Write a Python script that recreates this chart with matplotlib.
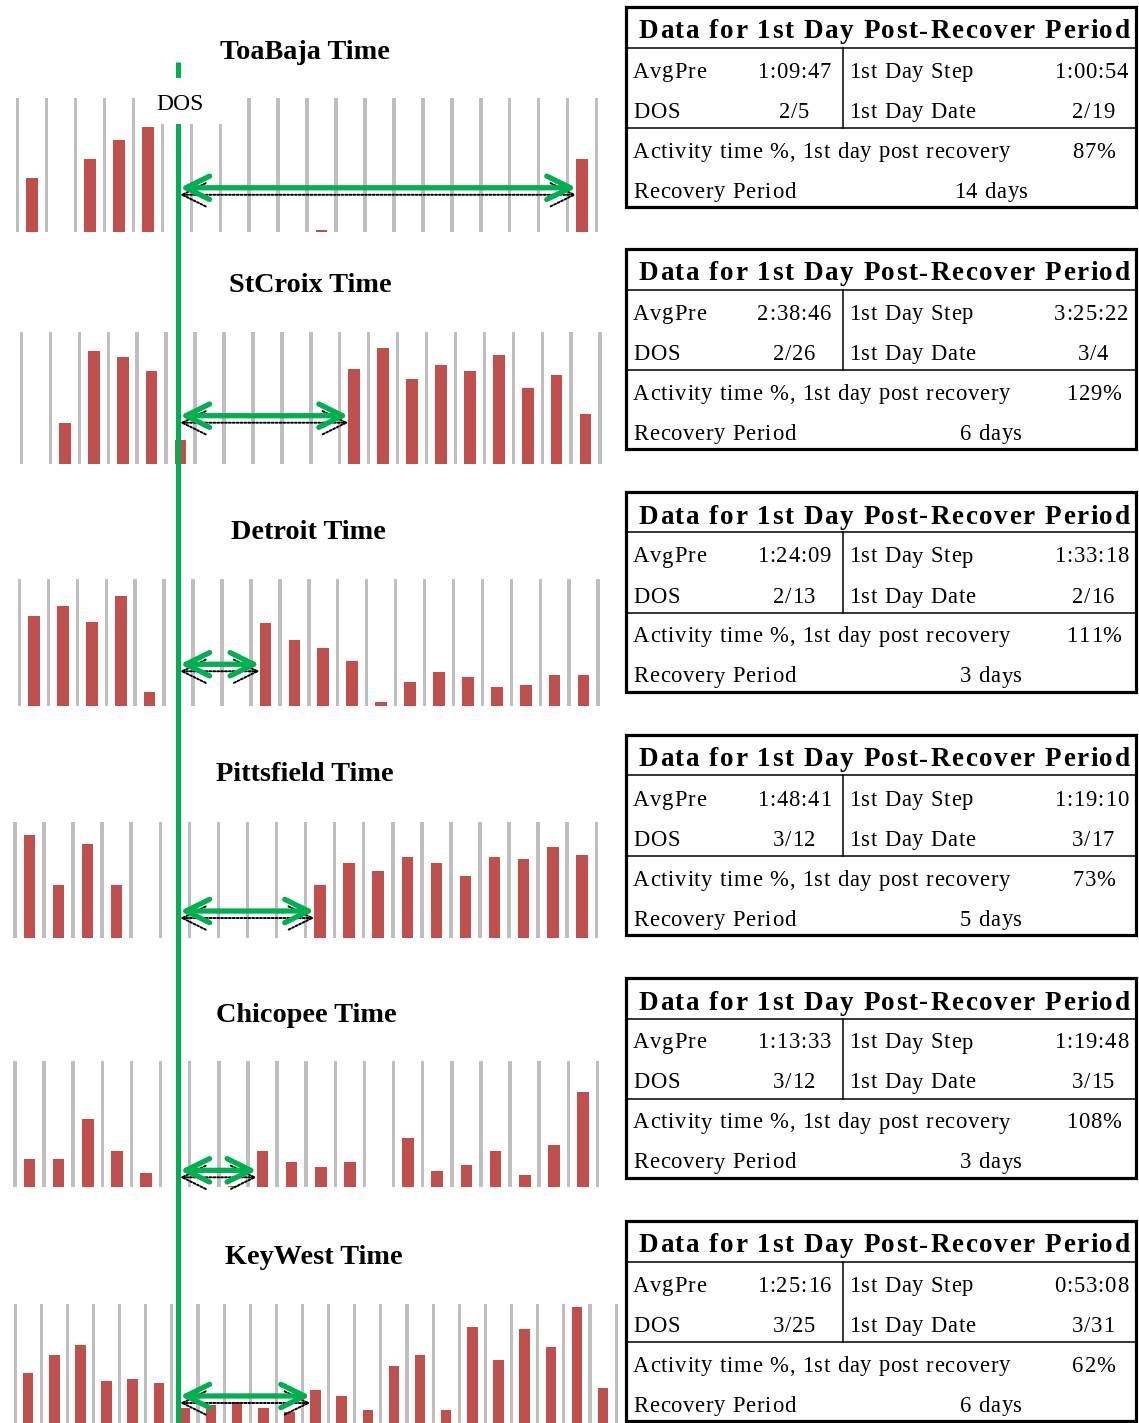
import matplotlib
matplotlib.use("Agg")
import matplotlib.pyplot as plt
from matplotlib.lines import Line2D
from matplotlib.patches import Rectangle
from matplotlib.font_manager import FontProperties, findfont
from matplotlib.ft2font import FT2Font
try:
    from matplotlib.ft2font import LoadFlags
    NOHINT = LoadFlags.NO_HINTING
except ImportError:
    from matplotlib.ft2font import LOAD_NO_HINTING as NOHINT

W, H, DPI = 1139, 1423, 100
SERIF = "Liberation Serif"
RED = "#C0504D"
GRAY = "#BFBFBF"
GREEN = "#00B050"

# ---------------- data ----------------
sites = ["ToaBaja", "StCroix", "Detroit", "Pittsfield", "Chicopee", "KeyWest"]

# daily activity time as a fraction of the reference day (gray bars)
day_total = 1.0
toabaja_act = [0.40, 0, 0.545, 0.69, 0.78, 0, 0, 0, 0, 0, 0.015, 0, 0, 0, 0, 0, 0, 0, 0, 0.545]
stcroix_act = [0, 0.31, 0.854, 0.81, 0.70, 0.18, 0, 0, 0, 0, 0, 0.716, 0.88, 0.645, 0.746, 0.70,
               0.826, 0.572, 0.673, 0.376]
detroit_act = [0.708, 0.79, 0.663, 0.868, 0.108, 0, 0, 0, 0.65, 0.518, 0.458, 0.353, 0.03, 0.19,
               0.268, 0.224, 0.148, 0.163, 0.24, 0.24]
pittsfield_act = [0.885, 0.454, 0.805, 0.454, 0, 0, 0, 0, 0, 0, 0.454, 0.647, 0.578, 0.693, 0.647,
                  0.529, 0.693, 0.676, 0.784, 0.71]
chicopee_act = [0.217, 0.217, 0.535, 0.283, 0.106, 0, 0, 0.008, 0.283, 0.198, 0.154, 0.198, 0,
                0.389, 0.122, 0.17, 0.283, 0.093, 0.329, 0.754]
keywest_act = [0.45, 0.595, 0.672, 0.39, 0.405, 0.375, 0.172, 0.198, 0.225, 0.172, 0.14, 0.317,
               0.27, 0.156, 0.508, 0.595, 0.156, 0.817, 0.553, 0.80, 0.659, 0.979, 0.33]
activity = [toabaja_act, stcroix_act, detroit_act, pittsfield_act, chicopee_act, keywest_act]

first_day_index = [19, 11, 8, 10, 8, 11]

avg_pre = ["1:09:47", "2:38:46", "1:24:09", "1:48:41", "1:13:33", "1:25:16"]
dos_date = ["2/5", "2/26", "2/13", "3/12", "3/12", "3/25"]
first_step = ["1:00:54", "3:25:22", "1:33:18", "1:19:10", "1:19:48", "0:53:08"]
first_date = ["2/19", "3/4", "2/16", "3/17", "3/15", "3/31"]
activity_pct = ["87%", "129%", "111%", "73%", "108%", "62%"]
recovery_days = [14, 6, 3, 5, 3, 6]

table_title = "Data for 1st Day Post-Recover Period"

# ---------------- layout (pixels) ----------------
panel_x0 = [17.6, 21.5, 19.5, 14.9, 14.9, 15.1]
panel_slot = [28.95, 28.93, 28.93, 29.07, 29.13, 26.13]
panel_top = [98, 331.7, 579, 821.7, 1060.7, 1304]
panel_base = [232, 464, 705.7, 937.7, 1186.7, 1430]
title_xy = [(305, 59), (310, 292), (308, 539), (304.5, 781), (306, 1022), (314, 1264)]
arrow_level = [0.33, 0.365, 0.327, 0.23, 0.13, 0.27]
table_top = [7, 249, 492, 735, 978, 1221]
GREEN_X = 178

fig = plt.figure(figsize=(W / DPI, H / DPI), dpi=DPI)
fig.patch.set_facecolor("white")


def fx(x):
    return x / W


def fy(y):
    return 1 - y / H


_fonts = {}


def advances(s, weight, size):
    if weight not in _fonts:
        _fonts[weight] = FT2Font(findfont(FontProperties(family=SERIF, weight=weight)))
    f = _fonts[weight]
    f.set_size(size, DPI)
    out = []
    for c in s:
        g = f.load_char(ord(c), flags=NOHINT)
        out.append(g.linearHoriAdvance / 65536.0)
    return out


def natural_width(s, weight, size):
    return sum(advances(s, weight, size))


def tracked(x, y, s, size, weight="normal", ha="left", track=0.0, zorder=6):
    adv = advances(s, weight, size)
    total = sum(adv) + track * (len(s) - 1)
    if ha == "left":
        cx = x
    elif ha == "right":
        cx = x - total
    else:
        cx = x - total / 2
    for c, a in zip(s, adv):
        if c != " ":
            fig.text(fx(cx), fy(y), c, fontsize=size, fontweight=weight, family=SERIF,
                     ha="left", va="baseline", color="black", zorder=zorder)
        cx += a + track


# ---------------- bar panels ----------------
for i, vals in enumerate(activity):
    n = len(vals)
    slot = panel_slot[i]
    pad = 0.3
    left_px = panel_x0[i] - pad * slot
    width_px = (n + 2 * pad) * slot
    height_px = panel_base[i] - panel_top[i]
    ax = fig.add_axes([fx(left_px), fy(panel_base[i]), width_px / W, height_px / H])
    ax.set_xlim(-pad, n + pad)
    ax.set_ylim(0, day_total)
    ax.axis("off")
    gx = list(range(n + 1))
    ax.bar(gx, [day_total] * len(gx), width=0.12, color=GRAY, zorder=1)
    ax.bar([k + 0.5 for k in range(n)], vals, width=0.40, color=RED, zorder=2)

    end_x = first_day_index[i] + 0.5 - 0.20
    lvl = arrow_level[i]
    sdy = 7.0 / height_px
    style = "<->,head_length=0.85,head_width=0.42"
    ax.annotate("", xy=(end_x, lvl - sdy), xycoords=("data", "axes fraction"),
                xytext=(fx(GREEN_X + 2), lvl - sdy), textcoords=("figure fraction", "axes fraction"),
                arrowprops=dict(arrowstyle=style, lw=1.4, ls=(0, (1, 1)), color="black",
                                shrinkA=0, shrinkB=0, mutation_scale=20), zorder=4)
    ax.annotate("", xy=(end_x, lvl), xycoords=("data", "axes fraction"),
                xytext=(fx(GREEN_X + 2), lvl), textcoords=("figure fraction", "axes fraction"),
                arrowprops=dict(arrowstyle=style, lw=3.8, color=GREEN,
                                shrinkA=0, shrinkB=0, mutation_scale=20), zorder=5)

    tx, ty = title_xy[i]
    fig.text(fx(tx), fy(ty), f"{sites[i]} Time", fontsize=20.3, fontweight="bold", family=SERIF,
             ha="center", va="baseline", zorder=6)

# green DOS line and its label
fig.add_artist(Line2D([fx(GREEN_X)] * 2, [fy(62), fy(H + 5)], transform=fig.transFigure,
                      color=GREEN, lw=3.6, solid_capstyle="butt", zorder=3))
fig.add_artist(Rectangle((fx(140), fy(124)), 95 / W, 46 / H, transform=fig.transFigure,
                         facecolor="white", edgecolor="none", zorder=4))
fig.text(fx(180.5), fy(110), "DOS", fontsize=17, family=SERIF, ha="center", va="baseline",
         zorder=5)

# ---------------- tables ----------------
BODY = 16.3
TITLE = 19.5
act_label = "Activity time %, 1st day post recovery"
body_track = (377 - natural_width(act_label, "normal", BODY)) / (len(act_label) - 1)
title_track = (491 - natural_width(table_title, "bold", TITLE)) / (len(table_title) - 1)


def hline(x0, x1, y, lw):
    fig.add_artist(Line2D([fx(x0), fx(x1)], [fy(y), fy(y)], transform=fig.transFigure,
                          color="black", lw=lw, zorder=6))


def vline(x, y0, y1, lw):
    fig.add_artist(Line2D([fx(x), fx(x)], [fy(y0), fy(y1)], transform=fig.transFigure,
                          color="black", lw=lw, zorder=6))


for i, T in enumerate(table_top):
    L, R = 626, 1136
    fig.add_artist(Rectangle((fx(L), fy(T + 200)), (R - L) / W, 200 / H, transform=fig.transFigure,
                             facecolor="white", edgecolor="black", lw=2.3, zorder=6))
    hline(L, R, T + 40.5, 1.1)
    hline(L, R, T + 120.5, 1.1)
    vline(843, T + 40.5, T + 120.5, 1.1)
    tracked(884, T + 31.5, table_title, TITLE, "bold", "center", title_track)
    tracked(633, T + 70.5, "AvgPre", BODY, track=body_track)
    tracked(831, T + 70.5, avg_pre[i], BODY, ha="right", track=body_track)
    tracked(849, T + 70.5, "1st Day Step", BODY, track=body_track)
    tracked(1128, T + 70.5, first_step[i], BODY, ha="right", track=body_track)
    tracked(633, T + 110.5, "DOS", BODY, track=body_track)
    tracked(794, T + 110.5, dos_date[i], BODY, ha="center", track=body_track)
    tracked(849, T + 110.5, "1st Day Date", BODY, track=body_track)
    tracked(1093, T + 110.5, first_date[i], BODY, ha="center", track=body_track)
    tracked(633, T + 150.5, act_label, BODY, track=body_track)
    tracked(1094, T + 150.5, activity_pct[i], BODY, ha="center", track=body_track)
    tracked(633, T + 190.5, "Recovery Period", BODY, track=body_track)
    tracked(991, T + 190.5, f"{recovery_days[i]} days", BODY, ha="center", track=body_track)

fig.savefig("out.png", dpi=DPI, facecolor="white")
